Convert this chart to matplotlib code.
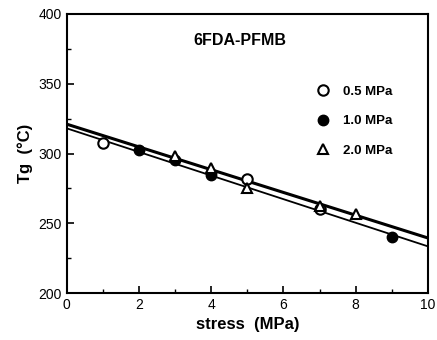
import matplotlib
matplotlib.use("Agg")
import matplotlib.pyplot as plt
from matplotlib.ticker import MultipleLocator

# stress (MPa) vs Tg for three loading levels
x_05 = [1, 5, 7]
tg_05 = [307.5, 281.5, 260.5]
x_10 = [2, 3, 4, 9]
tg_10 = [302.5, 295.0, 284.5, 240.5]
x_20 = [3, 4, 5, 7, 8]
tg_20 = [298.5, 289.5, 275.0, 262.5, 257.0]

# two fitted lines (end points at stress 0 and 10)
fit_x = [0, 10]
fit_upper = [321.0, 239.5]
fit_lower = [318.0, 233.5]

plt.rcParams["font.family"] = ["Liberation Sans", "DejaVu Sans"]

fig = plt.figure(figsize=(4.37, 3.40), dpi=100)
ax = fig.add_axes([0.153, 0.138, 0.826, 0.821])

ax.plot(fit_x, fit_upper, color="black", lw=2.2, zorder=2)
ax.plot(fit_x, fit_lower, color="black", lw=1.3, zorder=2)

ax.plot(x_05, tg_05, "o", ms=7.5, mfc="white", mec="black", mew=1.5,
        ls="none", label="0.5 MPa", zorder=3)
ax.plot(x_10, tg_10, "o", ms=7.5, mfc="black", mec="black",
        ls="none", label="1.0 MPa", zorder=3)
ax.plot(x_20, tg_20, "^", ms=7.5, mfc="white", mec="black", mew=1.5,
        ls="none", label="2.0 MPa", zorder=4)

ax.set_xlim(0, 10)
ax.set_ylim(200, 400)
ax.xaxis.set_major_locator(MultipleLocator(2))
ax.xaxis.set_minor_locator(MultipleLocator(1))
ax.yaxis.set_major_locator(MultipleLocator(50))
ax.yaxis.set_minor_locator(MultipleLocator(25))
ax.tick_params(which="both", direction="in", labelsize=10)
ax.tick_params(which="major", length=5, width=1.2)
ax.tick_params(which="minor", length=3, width=1)
for s in ax.spines.values():
    s.set_linewidth(1.5)

ax.set_xlabel("stress  (MPa)", fontsize=12, fontweight="bold")
ax.set_ylabel("Tg  (°C)", fontsize=12, fontweight="bold")
ax.text(0.48, 0.905, "6FDA-PFMB", transform=ax.transAxes, ha="center",
        va="center", fontsize=11.5, fontweight="bold")

ax.legend(loc="upper right", bbox_to_anchor=(0.935, 0.785), frameon=False,
          handletextpad=0.5, labelspacing=1.3, numpoints=1,
          prop={"weight": "bold", "size": 9.5})

fig.savefig("out.png", dpi=100)
